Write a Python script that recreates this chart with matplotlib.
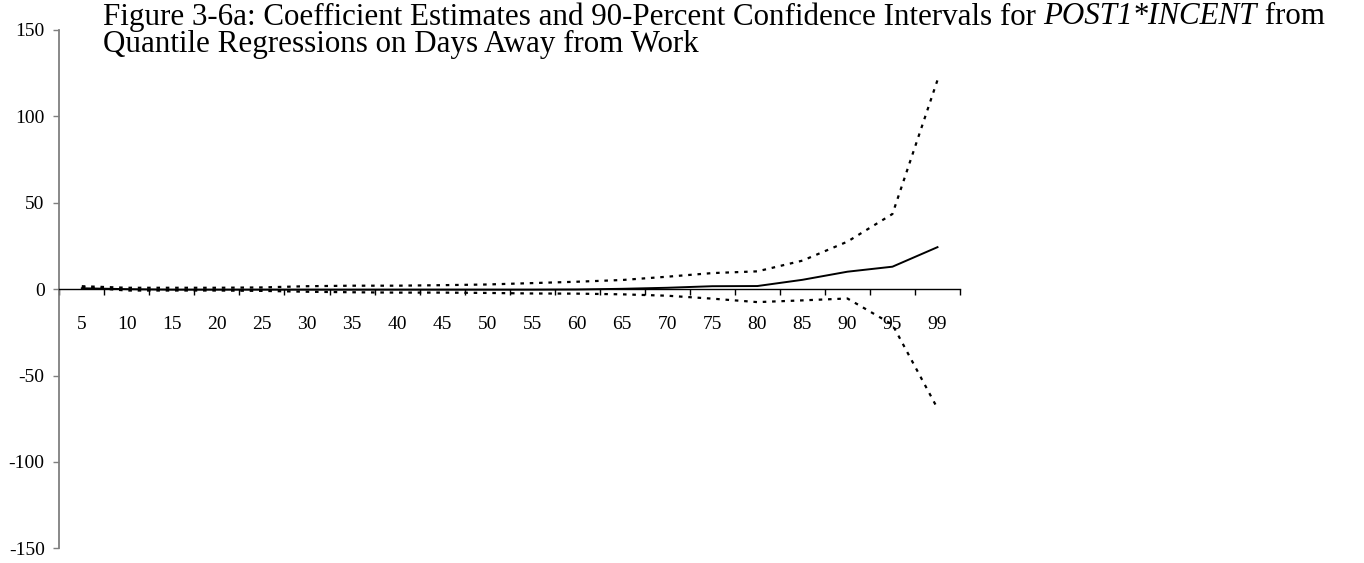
import matplotlib
matplotlib.use("Agg")
import matplotlib.pyplot as plt
from matplotlib.ticker import FixedLocator

# Quantiles and quantile-regression estimates for POST1*INCENT
quantiles = ["5", "10", "15", "20", "25", "30", "35", "40", "45", "50",
             "55", "60", "65", "70", "75", "80", "85", "90", "95", "99"]
coef = [0.5, 0.0, -0.3, -0.3, -0.3, -0.3, -0.3, -0.3, -0.3, -0.3,
        -0.3, -0.2, 0.2, 0.8, 1.7, 1.8, 5.4, 10.1, 13.0, 24.3]
ci_upper = [1.7, 0.8, 0.8, 0.8, 1.0, 1.7, 2.0, 2.0, 2.3, 2.7,
            3.5, 4.3, 5.3, 7.2, 9.3, 10.3, 16.5, 27.5, 43.5, 121.0]
ci_lower = [1.2, -0.8, -0.8, -0.8, -1.0, -1.5, -1.8, -2.0, -2.0, -2.2,
            -2.5, -2.6, -3.0, -3.8, -5.5, -7.5, -6.5, -5.4, -20.5, -69.0]
y_ticks = [-150, -100, -50, 0, 50, 100, 150]

plt.rcParams["font.family"] = ["Liberation Serif", "DejaVu Serif"]

W, H = 1364, 563
fig = plt.figure(figsize=(W / 100, H / 100), dpi=100)
ax = fig.add_axes([59.3 / W, 1 - 548.3 / H, (960 - 59.3) / W, (548.3 - 30) / H])

x = list(range(len(quantiles)))
dots = dict(color="black", lw=1.6, linestyle=(0, (1.6, 2.6)), dash_capstyle="butt")
ax.plot(x, ci_upper, **dots)
ax.plot(x, ci_lower, **dots)
ax.plot(x, coef, color="black", lw=1.4)

ax.set_xlim(-0.5, len(quantiles) - 0.5)
ax.set_ylim(-150, 150)

# category axis crossing at zero, ticks between categories
ax.spines["top"].set_visible(False)
ax.spines["right"].set_visible(False)
ax.spines["bottom"].set_position(("data", 0))
ax.spines["bottom"].set_color("black")
ax.spines["bottom"].set_linewidth(1.0)
ax.spines["left"].set_color("#7f7f7f")
ax.spines["left"].set_linewidth(1.3)

ax.set_xticks(x)
ax.set_xticklabels(quantiles)
ax.xaxis.set_minor_locator(FixedLocator([i - 0.5 for i in range(len(quantiles) + 1)]))
ax.tick_params(axis="x", which="major", length=0, pad=19, labelsize=14)
ax.tick_params(axis="x", which="minor", length=4, width=1.0, direction="out", color="black")

ax.set_yticks(y_ticks)
ax.set_yticklabels([str(v) for v in y_ticks])
ax.tick_params(axis="y", length=4.5, width=1.0, color="#7f7f7f", direction="out",
               pad=6, labelsize=14)

# two-line title, first line mixes upright and italic runs
title_size = 22.3
x0 = 103 / W
base1 = 1 - 24.5 / H
base2 = 1 - 52 / H
runs = [("Figure 3-6a: Coefficient Estimates and 90-Percent Confidence Intervals for ", "normal"),
        ("POST1*INCENT", "italic"),
        (" from", "normal")]
renderer = fig.canvas.get_renderer()
xpos = x0
for txt, style in runs:
    t = fig.text(xpos, base1, txt, ha="left", va="baseline", fontsize=title_size, style=style)
    bb = t.get_window_extent(renderer=renderer)
    xpos = xpos + bb.width / W
fig.text(x0, base2, "Quantile Regressions on Days Away from Work",
         ha="left", va="baseline", fontsize=title_size)

fig.savefig("out.png", dpi=100)
